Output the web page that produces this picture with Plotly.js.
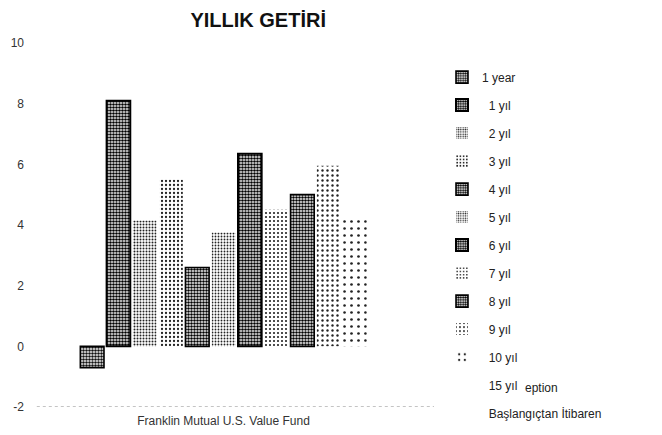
<!DOCTYPE html>
<html>
<head>
<meta charset="utf-8">
<script src="https://cdn.plot.ly/plotly-3.0.1.min.js"></script>
<style>html,body{margin:0;padding:0;background:#fff;}#chart{width:662px;height:435px;}</style>
</head>
<body>
<div id="chart"></div>
<script>
// ---- data ----
const categories = ["Franklin Mutual U.S. Value Fund"];
const seriesNames = ["1 year", "1 yıl", "2 yıl", "3 yıl", "4 yıl", "5 yıl", "6 yıl", "7 yıl", "8 yıl", "9 yıl", "10 yıl"];
const returns = [-0.7, 8.1, 4.15, 5.5, 2.6, 3.75, 6.35, 4.5, 5.0, 5.95, 4.25];
const emptySeries = ["15 yıl", "Başlangıçtan İtibaren"];
const yTicks = [-2, 0, 2, 4, 6, 8, 10];
const yTickLabels = ["-2", "0", "2", "4", "6", "8", "10"];

// ---- styles (not data) ----
const styles = [
  {bg:"#ffffff", fg:"#111", size:3, sol:0.55, line:1.6},
  {bg:"#ffffff", fg:"#000", size:3, sol:0.6, line:2},
  {bg:"#ffffff", fg:"#222", size:3, sol:0.35, line:0},
  {bg:"#ffffff", fg:"#222", size:4, sol:0.25, line:0},
  {bg:"#ffffff", fg:"#000", size:3, sol:0.55, line:1.6},
  {bg:"#ffffff", fg:"#222", size:3, sol:0.3, line:0},
  {bg:"#ffffff", fg:"#000", size:3, sol:0.6, line:2},
  {bg:"#ffffff", fg:"#222", size:4, sol:0.22, line:0},
  {bg:"#ffffff", fg:"#000", size:3, sol:0.55, line:1.6},
  {bg:"#ffffff", fg:"#222", size:5, sol:0.18, line:0},
  {bg:"#ffffff", fg:"#222", size:7, sol:0.12, line:0}
];

const traces = seriesNames.map((name, i) => ({
  type: "bar",
  name: (i === 0 ? "" : "\u00a0\u00a0") + name,
  x: categories,
  y: [returns[i]],
  legendgroup: "g" + i,
  marker: {
    color: styles[i].bg,
    pattern: {shape: ".", fgcolor: styles[i].fg, bgcolor: styles[i].bg, size: styles[i].size, solidity: styles[i].sol, fillmode: "replace"},
    line: {color: "#000", width: styles[i].line}
  },
  hoverinfo: "skip"
}));
emptySeries.forEach((name, j) => {
  traces.push({
    type: "scatter", mode: "lines", name: "\u00a0\u00a0" + name,
    x: [null], y: [null], legendgroup: "e" + j,
    line: {width: 0, color: "rgba(0,0,0,0)"}, hoverinfo: "skip"
  });
});

const layout = {
  width: 662, height: 435,
  margin: {l: 40, r: 222, t: 43, b: 0, pad: 0},
  paper_bgcolor: "#fff", plot_bgcolor: "#fff",
  font: {family: "Liberation Sans, Arial, sans-serif", size: 12, color: "#222"},
  title: {text: "<b>YILLIK GETİRİ</b>", x: 0.39, xanchor: "center", y: 0.953, yanchor: "middle",
          font: {size: 20, color: "#111", family: "Liberation Sans, Arial, sans-serif"}},
  barmode: "group", bargap: 0.2, bargroupgap: 0.1,
  xaxis: {type: "category", range: [-0.508, 0.599], showgrid: false, zeroline: false, showline: false,
          ticks: "", ticklabelstandoff: 5, automargin: false, tickfont: {size: 12, color: "#333"}},
  yaxis: {domain: [0.0714, 1], range: [-2, 10], tickvals: yTicks, ticktext: yTickLabels, showgrid: false, zeroline: false, showline: false,
          ticks: "", ticklabelstandoff: 15, automargin: false, tickfont: {size: 12, color: "#333"}},
  shapes: [{type: "line", xref: "paper", yref: "y", x0: -0.008, x1: 0.985, y0: -2, y1: -2,
            line: {color: "#888", width: 1, dash: "dot"}}],
  legend: {x: 1.005, xanchor: "left", y: 0.950, yanchor: "top", traceorder: "grouped",
           tracegroupgap: 9, maxheight: 1000, font: {size: 12, color: "#222"}, bgcolor: "rgba(0,0,0,0)"},
  annotations: [{xref: "paper", yref: "paper", x: 1.2075, xanchor: "left", y: 0.1199, yanchor: "middle", text: "eption", showarrow: false,
                 font: {size: 12, color: "#222"}}],
  showlegend: true
};

Plotly.newPlot("chart", traces, layout, {displayModeBar: false, staticPlot: true});
</script>
</body>
</html>
